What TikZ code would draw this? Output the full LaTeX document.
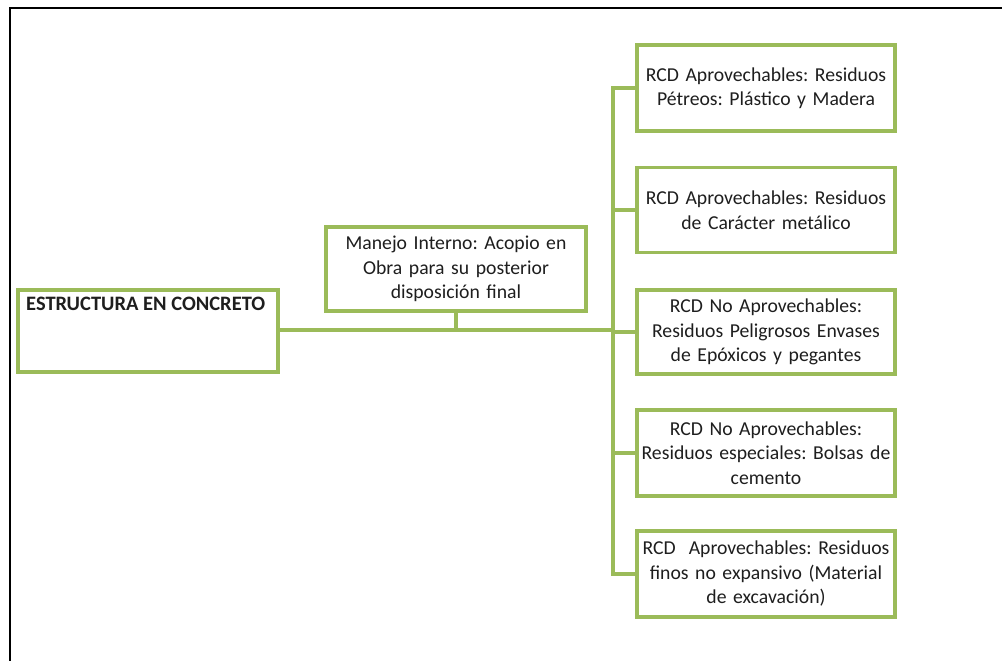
\documentclass[tikz,border=0pt]{standalone}
\usepackage{fontspec}
\setmainfont{Carlito}
\frenchspacing
\definecolor{olive}{RGB}{155,187,89}
\definecolor{ink}{RGB}{30,30,30}
\begin{document}
\begin{tikzpicture}[x=1pt,y=-1pt,
  box/.style={draw=olive, line width=3.5pt, fill=white, minimum width=258pt,
    text width=252pt, align=center, inner sep=3pt, text=ink,
    font=\fontsize{19.7}{24.5}\selectfont},
  link/.style={draw=olive, line width=3.5pt, line cap=rect}]
\useasboundingbox (0,0) rectangle (1002,661);
\fill[white] (0,0) rectangle (1002,661);
% outer frame (top and left edges)
\draw[black, line width=2pt] (10,661) -- (10,8.5) -- (1002,8.5);

% source and storage boxes
\node[box, minimum width=260pt, minimum height=82pt] (est) at (148,331) {};
\node[anchor=base west, inner sep=0pt, text=ink,
  font=\fontsize{20.5}{24}\selectfont\bfseries] (estlbl) at (26,310) {ESTRUCTURA EN CONCRETO};
\node[box, minimum width=260pt, minimum height=84pt] (man) at (456,269)
  {Manejo Interno: Acopio en\\Obra para su posterior\\disposición final};

% destination boxes
\node[box, minimum height=86pt] (b1) at (766,88)
  {RCD Aprovechables: Residuos\\Pétreos: Plástico y Madera};
\node[box, minimum height=85pt] (b2) at (766,210)
  {RCD Aprovechables: Residuos\\de Carácter metálico};
\node[box, minimum height=84pt] (b3) at (766,332)
  {RCD No Aprovechables:\\Residuos Peligrosos Envases\\de Epóxicos y pegantes};
\node[box, minimum height=86pt] (b4) at (766,453)
  {RCD No Aprovechables:\\Residuos especiales: Bolsas de\\cemento};
\node[box, minimum height=86pt] (b5) at (766,574)
  {RCD\ \ Aprovechables: Residuos\\finos no expansivo (Material\\de excavación)};

% connectors
\coordinate (trunk) at (613,330);
\draw[link] (est.east |- trunk) -- (trunk);
\draw[link] (man.south) -- (man.south |- trunk);
\draw[link] (b1.west -| trunk) -- (b5.west -| trunk);
\foreach \b in {b1,b2,b3,b4,b5}
  \draw[link] (\b.west -| trunk) -- (\b.west);
\end{tikzpicture}
\end{document}
